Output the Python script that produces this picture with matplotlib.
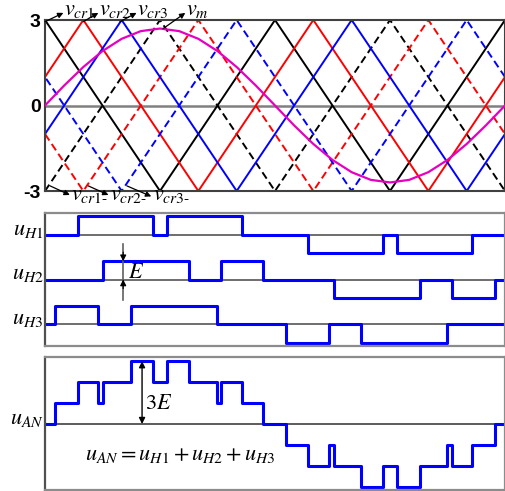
import numpy as np
import matplotlib
matplotlib.use("Agg")
import matplotlib.pyplot as plt

plt.rcParams['mathtext.fontset'] = 'stix'
plt.rcParams['lines.scale_dashes'] = False

# time axis is one fundamental period, 0..1
# triangular carriers: vertex times and levels
vcr1_t = [0, 0.25, 0.5, 0.75, 1.0]
vcr1_v = [3, -3, 3, -3, 3]
vcr2_t = [-1/6, 1/12, 1/3, 7/12, 5/6, 13/12]
vcr2_v = [-3, 3, -3, 3, -3, 3]
vcr3_t = [-1/12, 1/6, 5/12, 2/3, 11/12, 7/6]
vcr3_v = [-3, 3, -3, 3, -3, 3]

# modulating wave vm, sampled every 1/24 period
vm_t = np.linspace(0, 1, 25)
vm_v = [0, 0.70, 1.35, 1.91, 2.34, 2.61, 2.70, 2.61, 2.34, 1.91, 1.35, 0.70,
        0, -0.70, -1.35, -1.91, -2.34, -2.61, -2.70, -2.61, -2.34, -1.91, -1.35, -0.70, 0]

# H-bridge outputs: switching instants and levels (in units of E)
h_levels = [0, 1, 0, 1, 0, -1, 0, -1, 0]
uH1_edges = [0.072, 0.235, 0.265, 0.428, 0.572, 0.735, 0.765, 0.928]
uH2_edges = [0.127, 0.313, 0.383, 0.475, 0.628, 0.815, 0.884, 0.978]
uH3_edges = [0.022, 0.116, 0.186, 0.373, 0.525, 0.617, 0.688, 0.875]

blue = '#0000ff'
red = '#ff0000'
mag = '#e600bf'


def level_at(edges, levels, t):
    return np.array(levels)[np.searchsorted(edges, t, side='right')]


def step_xy(edges, levels):
    x = [0] + list(edges) + [1]
    y = list(levels) + [levels[-1]]
    return x, y


fig = plt.figure(figsize=(5.06, 4.91), dpi=100)
ax1 = fig.add_axes([45/506, 1 - 191/491, 460/506, 171/491])
ax2 = fig.add_axes([45/506, 1 - 346/491, 460/506, 133/491])
ax3 = fig.add_axes([45/506, 1 - 490/491, 460/506, 133/491])

# ---- carriers and reference ----
ax1.axhline(0, color='#808080', lw=1.8, zorder=1)
for (t, v, c) in [(vcr1_t, vcr1_v, 'k'), (vcr2_t, vcr2_v, red), (vcr3_t, vcr3_v, blue)]:
    ax1.plot(t, v, color=c, lw=1.4, zorder=2)
    ax1.plot(t, -np.array(v), color=c, lw=1.4, dashes=(5.5, 3), zorder=2)
ax1.plot(vm_t, vm_v, color=mag, lw=1.6, zorder=3)
ax1.set_xlim(0, 1)
ax1.set_ylim(-3, 3)
ax1.set_xticks([])
ax1.set_yticks([3, 0, -3])
ax1.set_yticklabels(['3', '0', '-3'], fontsize=14, fontweight='bold',
                    family='Liberation Sans')
ax1.tick_params(axis='y', length=0, pad=3)
for s in ax1.spines.values():
    s.set_color('#404040')
    s.set_linewidth(1.5)

# carrier labels with arrows (top)
top_lbls = [(r'$v_{cr1}$', 0.0, 2.94, 0.040, 3.25),
            (r'$v_{cr2}$', 0.083, 2.94, 0.116, 3.25),
            (r'$v_{cr3}$', 0.163, 2.94, 0.199, 3.25),
            (r'$v_m$', 0.257, 2.70, 0.305, 3.25)]
for txt, x0, y0, x1, y1 in top_lbls:
    ax1.annotate('', xy=(x1, y1), xytext=(x0, y0), annotation_clip=False,
                 arrowprops=dict(arrowstyle='-|>', color='k', lw=0.9,
                                 mutation_scale=8, shrinkA=0, shrinkB=0))
    ax1.text(x1 + 0.002, 3.17, txt, fontsize=16, va='baseline', ha='left', clip_on=False)

bot_lbls = [(r'$v_{cr1\text{-}}$', 0.011, -2.82, 0.054, -3.14),
            (r'$v_{cr2\text{-}}$', 0.094, -2.82, 0.138, -3.14),
            (r'$v_{cr3\text{-}}$', 0.178, -2.82, 0.231, -3.19)]
for txt, x0, y0, x1, y1 in bot_lbls:
    ax1.annotate('', xy=(x1, y1), xytext=(x0, y0), annotation_clip=False,
                 arrowprops=dict(arrowstyle='-|>', color='k', lw=0.9,
                                 mutation_scale=8, shrinkA=0, shrinkB=0))
    ax1.text(x1 + 0.003, -3.32, txt, fontsize=16, va='baseline', ha='left', clip_on=False)

# ---- H-bridge outputs ----
offsets = [0, -2.45, -4.9]
names = [r'$u_{H1}$', r'$u_{H2}$', r'$u_{H3}$']
for edges, off, name in zip([uH1_edges, uH2_edges, uH3_edges], offsets, names):
    ax2.axhline(off, color='#555555', lw=1.2, zorder=1)
    x, y = step_xy(edges, h_levels)
    ax2.step(x, np.array(y) + off, where='post', color=blue, lw=2.2, zorder=2)
    ax2.text(-0.003, off, name, fontsize=16, ha='right', va='baseline',
             transform=ax2.get_yaxis_transform())
ax2.set_xlim(0, 1)
ax2.set_ylim(-6.09, 1.19)

# E marker
xE = 0.17
ax2.plot([xE, xE], [-0.5, -3.57], color='#606060', lw=1.2, zorder=3)
ax2.annotate('', xy=(xE, -1.45), xytext=(xE, -0.95),
             arrowprops=dict(arrowstyle='-|>', color='k', lw=0.8,
                             mutation_scale=9, shrinkA=0, shrinkB=0))
ax2.annotate('', xy=(xE, -2.45), xytext=(xE, -2.95),
             arrowprops=dict(arrowstyle='-|>', color='k', lw=0.8,
                             mutation_scale=9, shrinkA=0, shrinkB=0))
ax2.text(0.181, -2.05, r'$E$', fontsize=16, va='center', ha='left')

# ---- phase output ----
grid = np.array(sorted(set(uH1_edges + uH2_edges + uH3_edges)))
pts = np.concatenate([[0], grid])
uAN = (level_at(uH1_edges, h_levels, pts) + level_at(uH2_edges, h_levels, pts)
       + level_at(uH3_edges, h_levels, pts))
ax3.axhline(0, color='#404040', lw=1.2, zorder=1)
ax3.step(np.append(pts, 1), np.append(uAN, uAN[-1]), where='post', color=blue, lw=2.2, zorder=2)
ax3.set_xlim(0, 1)
ax3.set_ylim(-3.15, 3.2)
ax3.text(-0.003, 0, r'$u_{AN}$', fontsize=16, ha='right', va='baseline',
         transform=ax3.get_yaxis_transform())
ax3.annotate('', xy=(0.211, 3), xytext=(0.211, 0),
             arrowprops=dict(arrowstyle='<|-|>', color='k', lw=1.0,
                             mutation_scale=9, shrinkA=0, shrinkB=0))
ax3.text(0.217, 1.0, r'$3E$', fontsize=16, va='center', ha='left')
ax3.text(0.087, -1.71, r'$u_{AN}=u_{H1}+u_{H2}+u_{H3}$', fontsize=16,
         va='baseline', ha='left')

for ax in (ax2, ax3):
    ax.set_xticks([])
    ax.set_yticks([])
    for s in ax.spines.values():
        s.set_color('#8c8c8c')
        s.set_linewidth(1.6)
    ax.spines['left'].set_color('#505050')

fig.savefig('out.png', dpi=100)
